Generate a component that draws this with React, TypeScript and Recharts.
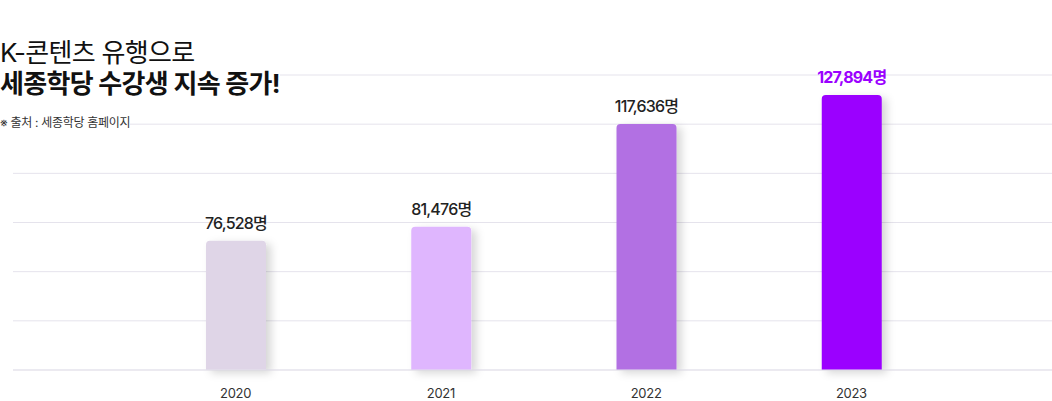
import React from "react";
import { BarChart, Bar, XAxis, YAxis, CartesianGrid, Cell, LabelList } from "recharts";

// 연도별 세종학당 수강생 수
const years = ["2020", "2021", "2022", "2023"];
const students = [76528, 81476, 117636, 127894];
const barColors = ["#DFD5E7", "#DFB6FE", "#B26FE3", "#9B00FF"];
const yTicks = [31000, 48320, 65640, 82960, 100280, 117600, 134920];

const data = years.map((year, i) => ({ year, value: students[i] }));

const FONT = "Inter, 'Noto Sans CJK KR', sans-serif";

function ValueLabel(props: any) {
  const { x, y, width, value, index } = props;
  const last = index === students.length - 1;
  return (
    <text
      x={x + width / 2}
      y={y - 12}
      textAnchor="middle"
      fontFamily={FONT}
      fontSize={16}
      fontWeight={last ? 700 : 500}
      letterSpacing={-0.8}
      fill={last ? "#9B00FF" : "#222"}
    >
      {value.toLocaleString("en-US")}명
    </text>
  );
}

function YearTick(props: any) {
  const { x, y, payload } = props;
  return (
    <text x={x} y={y + 28} textAnchor="middle" fontFamily={FONT} fontSize={13} letterSpacing={-0.3} fill="#333">
      {payload.value}
    </text>
  );
}

export default function App() {
  return (
    <div style={{ position: "relative", width: 1052, height: 401, background: "#fff" }}>
      <style>{`body{margin:0}`}</style>
      <BarChart width={1052} height={401} data={data} margin={{ top: 75, right: 0, left: 13, bottom: 0 }}>
        <defs>
          <filter id="barShadow" x="-30%" y="-10%" width="170%" height="130%">
            <feDropShadow dx={5} dy={3} stdDeviation={4} floodColor="#000" floodOpacity={0.16} />
          </filter>
        </defs>
        <CartesianGrid vertical={false} stroke="#E5E3EC" />
        <XAxis
          dataKey="year"
          height={31}
          padding={{ left: 120, right: 98 }}
          tickLine={false}
          tickSize={0}
          tickMargin={0}
          axisLine={{ stroke: "#E5E3EC" }}
          tick={<YearTick />}
        />
        <YAxis hide domain={[yTicks[0], yTicks[yTicks.length - 1]]} ticks={yTicks} />
        <Bar dataKey="value" barSize={60} radius={[4, 4, 0, 0]} isAnimationActive={false} filter="url(#barShadow)">
          {data.map((d, i) => (
            <Cell key={d.year} fill={barColors[i]} />
          ))}
          <LabelList dataKey="value" content={<ValueLabel />} />
        </Bar>
      </BarChart>
      <div style={{ position: "absolute", left: 0, top: 37, fontFamily: FONT, color: "#111" }}>
        <div style={{ fontSize: 26, lineHeight: "31px", letterSpacing: -0.7 }}>
          <span style={{ background: "#fff" }}>K-콘텐츠 유행으로</span>
        </div>
        <div style={{ fontSize: 26, lineHeight: "31px", fontWeight: 700, letterSpacing: -0.7 }}>
          <span style={{ background: "#fff" }}>세종학당 수강생 지속 증가!</span>
        </div>
        <div style={{ fontSize: 12, lineHeight: "16px", marginTop: 16, color: "#333", letterSpacing: -0.3 }}>
          <span style={{ background: "#fff" }}>※ 출처 : 세종학당 홈페이지</span>
        </div>
      </div>
    </div>
  );
}
